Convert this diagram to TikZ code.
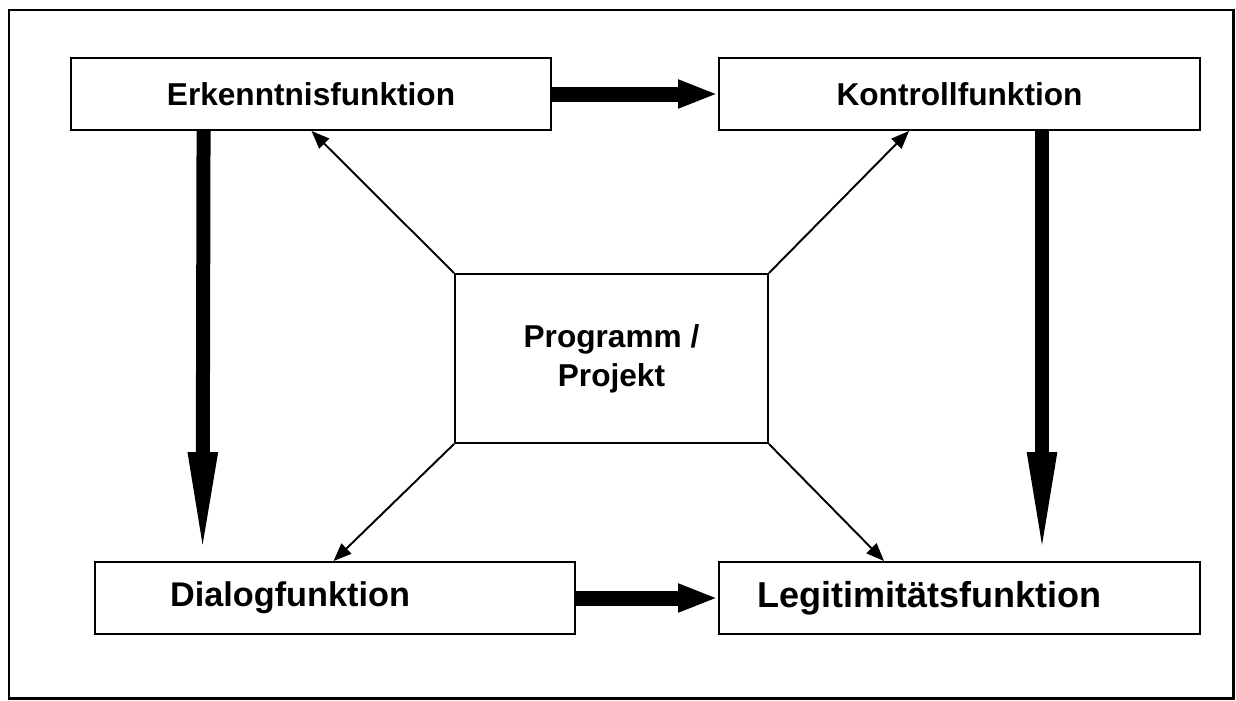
\documentclass[tikz,border=0pt]{standalone}
\usepackage{fontspec}
\setmainfont{Liberation Sans}
\usetikzlibrary{arrows.meta}
\tikzset{
    fn box/.style={draw=black, line width=1.1pt, fill=white,
                   minimum width=9.62cm, minimum height=1.44cm,
                   font=\fontsize{18}{22}\selectfont\bfseries},
    fn low/.style={fn box, font=\fontsize{19.5}{23}\selectfont\bfseries},
    core box/.style={fn box, minimum width=6.26cm, minimum height=3.38cm,
                     align=center},
    big right/.style={line width=0.3cm,
                      -{Triangle[length=0.8cm, width=0.52cm]}},
    big down/.style={line width=0.28cm,
                     -{Triangle[length=2.18cm, width=0.52cm]}},
    thin arr/.style={line width=1.1pt,
                     -{Triangle[length=0.36cm, width=0.28cm]}},
}
\begin{document}
\begin{tikzpicture}[x=0.02cm, y=-0.02cm]
    \useasboundingbox (0,0) rectangle (1236,700);
    % Frame
    \draw[line width=1.7pt] (9,10) rectangle (1233,698);
    % Functions
    \node[fn box] (erk) at (311,94) {Erkenntnisfunktion};
    \node[fn box] (kon) at (959.5,94) {Kontrollfunktion};
    \node[fn low] (dia) at (335,598) {Dialogfunktion\hspace*{1.8cm}};
    \node[fn low, font=\fontsize{20.5}{24}\selectfont\bfseries] (leg)
        at (959.5,598) {Legitimitätsfunktion\hspace*{1.2cm}};
    % Centre
    \node[core box] (prog) at (611.5,358.5) {Programm /\\Projekt};
    % Main cycle
    \draw[big right] (erk.east) -- (kon.west);
    \draw[big right] (dia.east) -- (leg.west);
    \draw[big down] ([xshift=2.68cm]erk.south west)
        -- ([xshift=2.18cm]dia.north west);
    \draw[big down] ([xshift=6.48cm]kon.south west)
        -- ([xshift=6.48cm]leg.north west);
    % From the centre
    \draw[thin arr] (prog.north west) -- ([xshift=4.84cm]erk.south west);
    \draw[thin arr] (prog.north east) -- ([xshift=3.82cm]kon.south west);
    \draw[thin arr] (prog.south west) -- ([xshift=4.8cm]dia.north west);
    \draw[thin arr] (prog.south east) -- ([xshift=3.32cm]leg.north west);
\end{tikzpicture}
\end{document}
